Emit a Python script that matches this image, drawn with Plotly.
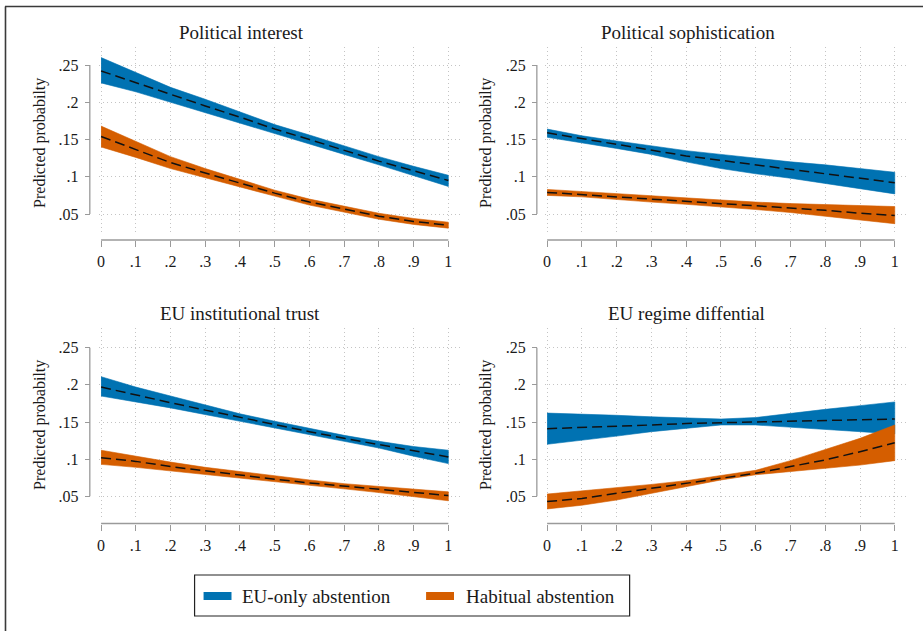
import plotly.graph_objects as go

# ---------------- data ----------------
x_values = [0, 0.1, 0.2, 0.3, 0.4, 0.5, 0.6, 0.7, 0.8, 0.9, 1.0]
x_tick_labels = ["0", ".1", ".2", ".3", ".4", ".5", ".6", ".7", ".8", ".9", "1"]
y_tick_values = [0.05, 0.10, 0.15, 0.20, 0.25]
y_tick_labels = [".05", ".1", ".15", ".2", ".25"]
panel_titles = ["Political interest", "Political sophistication",
                "EU institutional trust", "EU regime diffential"]
series_names = ["EU-only abstention", "Habitual abstention"]
y_title = "Predicted probabilty"

# Political interest
interest_eu_mean = [0.242, 0.226, 0.210, 0.195, 0.180, 0.164, 0.150, 0.135, 0.121, 0.108, 0.095]
interest_eu_lo   = [0.226, 0.214, 0.200, 0.187, 0.173, 0.158, 0.144, 0.130, 0.116, 0.102, 0.087]
interest_eu_hi   = [0.260, 0.240, 0.220, 0.204, 0.187, 0.170, 0.156, 0.141, 0.127, 0.114, 0.102]
interest_hab_mean = [0.154, 0.136, 0.119, 0.105, 0.091, 0.078, 0.066, 0.056, 0.047, 0.040, 0.035]
interest_hab_lo   = [0.140, 0.126, 0.111, 0.098, 0.086, 0.074, 0.062, 0.052, 0.043, 0.036, 0.031]
interest_hab_hi   = [0.168, 0.147, 0.127, 0.111, 0.096, 0.082, 0.070, 0.060, 0.051, 0.044, 0.039]

# Political sophistication
soph_eu_mean = [0.159, 0.151, 0.143, 0.135, 0.128, 0.122, 0.116, 0.110, 0.104, 0.098, 0.092]
soph_eu_lo   = [0.153, 0.146, 0.138, 0.130, 0.120, 0.111, 0.104, 0.098, 0.091, 0.084, 0.077]
soph_eu_hi   = [0.164, 0.155, 0.148, 0.141, 0.135, 0.130, 0.125, 0.120, 0.116, 0.111, 0.106]
soph_hab_mean = [0.079, 0.076, 0.073, 0.070, 0.067, 0.064, 0.061, 0.058, 0.055, 0.051, 0.048]
soph_hab_lo   = [0.075, 0.073, 0.070, 0.066, 0.063, 0.060, 0.056, 0.052, 0.047, 0.042, 0.037]
soph_hab_hi   = [0.083, 0.080, 0.077, 0.074, 0.071, 0.068, 0.066, 0.064, 0.063, 0.061, 0.060]

# EU institutional trust
trust_eu_mean = [0.197, 0.186, 0.176, 0.166, 0.156, 0.147, 0.137, 0.128, 0.120, 0.111, 0.103]
trust_eu_lo   = [0.185, 0.177, 0.169, 0.160, 0.151, 0.143, 0.133, 0.124, 0.115, 0.104, 0.094]
trust_eu_hi   = [0.211, 0.197, 0.185, 0.173, 0.161, 0.151, 0.141, 0.132, 0.124, 0.117, 0.112]
trust_hab_mean = [0.102, 0.097, 0.090, 0.084, 0.079, 0.073, 0.068, 0.064, 0.059, 0.055, 0.051]
trust_hab_lo   = [0.093, 0.089, 0.084, 0.079, 0.074, 0.070, 0.065, 0.060, 0.055, 0.050, 0.044]
trust_hab_hi   = [0.112, 0.104, 0.096, 0.089, 0.083, 0.077, 0.072, 0.067, 0.063, 0.059, 0.056]

# EU regime differential
regime_eu_mean = [0.141, 0.143, 0.144, 0.146, 0.148, 0.149, 0.150, 0.151, 0.152, 0.153, 0.154]
regime_eu_lo   = [0.120, 0.126, 0.131, 0.137, 0.142, 0.146, 0.146, 0.143, 0.140, 0.137, 0.134]
regime_eu_hi   = [0.162, 0.161, 0.159, 0.157, 0.155, 0.154, 0.156, 0.162, 0.167, 0.172, 0.177]
regime_hab_mean = [0.043, 0.047, 0.054, 0.061, 0.068, 0.074, 0.081, 0.090, 0.099, 0.110, 0.122]
regime_hab_lo   = [0.033, 0.038, 0.045, 0.054, 0.063, 0.072, 0.079, 0.083, 0.088, 0.092, 0.098]
regime_hab_hi   = [0.053, 0.057, 0.062, 0.066, 0.071, 0.078, 0.085, 0.098, 0.113, 0.128, 0.146]

panel_data = [
    (interest_eu_mean, interest_eu_lo, interest_eu_hi, interest_hab_mean, interest_hab_lo, interest_hab_hi),
    (soph_eu_mean, soph_eu_lo, soph_eu_hi, soph_hab_mean, soph_hab_lo, soph_hab_hi),
    (trust_eu_mean, trust_eu_lo, trust_eu_hi, trust_hab_mean, trust_hab_lo, trust_hab_hi),
    (regime_eu_mean, regime_eu_lo, regime_eu_hi, regime_hab_mean, regime_hab_lo, regime_hab_hi),
]

# ---------------- styling / geometry ----------------
W, H = 923, 631
BLUE = "#0072B2"
ORANGE = "#D55E00"
FONT = "Liberation Serif"
AXIS_GRAY = "#9a9a9a"
TEXT = "#1a1a1a"
GRID = "#c4c4c4"

# pixel geometry of each panel
geo = [
    dict(left=97, right=460, x0=99.3, x1=447.3, top=47, bottom=235, y25=65.0, y05=214.0,
         xline=240.0, yline=88.0, tx=240, ty=33, ytx=38, yty=143),
    dict(left=544, right=907, x0=546.3, x1=894.7, top=47, bottom=235, y25=65.0, y05=214.0,
         xline=240.0, yline=536.0, tx=687, ty=33, ytx=485, yty=143),
    dict(left=97, right=460, x0=99.3, x1=447.3, top=328, bottom=518, y25=347.7, y05=496.3,
         xline=523.5, yline=88.0, tx=239, ty=313, ytx=38, yty=425),
    dict(left=544, right=907, x0=546.3, x1=894.7, top=328, bottom=518, y25=347.7, y05=496.3,
         xline=523.5, yline=536.0, tx=686, ty=313, ytx=485, yty=425),
]

fig = go.Figure()
shapes = []
annotations = []
layout_axes = {}

for i, (g, data, title) in enumerate(zip(geo, panel_data, panel_titles)):
    n = "" if i == 0 else str(i + 1)
    xa, ya = "x" + n, "y" + n
    eu_m, eu_lo, eu_hi, hb_m, hb_lo, hb_hi = data

    # confidence bands
    for lo, hi, col, name in [(eu_lo, eu_hi, BLUE, series_names[0]),
                              (hb_lo, hb_hi, ORANGE, series_names[1])]:
        fig.add_trace(go.Scatter(
            x=x_values + x_values[::-1], y=hi + lo[::-1],
            fill="toself", fillcolor=col, mode="lines", name=name,
            line=dict(width=0.6, color=col), hoverinfo="skip",
            showlegend=False, xaxis=xa, yaxis=ya))
    # predicted means
    for m in (eu_m, hb_m):
        fig.add_trace(go.Scatter(
            x=x_values, y=m, mode="lines",
            line=dict(color="#111111", width=1.5, dash="10px,5px"),
            showlegend=False, xaxis=xa, yaxis=ya))

    xppu = (g["x1"] - g["x0"])
    xr = [(g["left"] - g["x0"]) / xppu, 1 + (g["right"] - g["x1"]) / xppu]
    yppu = (g["y05"] - g["y25"]) / 0.2
    yr = [0.25 - (g["bottom"] - g["y25"]) / yppu, 0.25 + (g["y25"] - g["top"]) / yppu]

    layout_axes["xaxis" + n] = dict(
        domain=[g["left"] / W, g["right"] / W], range=xr,
        anchor="free", position=1 - g["xline"] / H,
        tickvals=x_values, ticktext=x_tick_labels,
        ticks="outside", ticklen=6, tickcolor=AXIS_GRAY, tickwidth=1.2,
        showline=False, zeroline=False,
        showgrid=True, gridcolor=GRID, griddash="1px,3px", gridwidth=1,
        tickfont=dict(family=FONT, size=16, color=TEXT), ticklabelstandoff=1,
        fixedrange=True)
    layout_axes["yaxis" + n] = dict(
        domain=[1 - g["bottom"] / H, 1 - g["top"] / H], range=yr,
        anchor="free", position=g["yline"] / W,
        tickvals=y_tick_values, ticktext=y_tick_labels,
        ticks="outside", ticklen=5, tickcolor=AXIS_GRAY, tickwidth=1.2,
        showline=False, zeroline=False,
        showgrid=True, gridcolor=GRID, griddash="1px,3px", gridwidth=1,
        tickfont=dict(family=FONT, size=16, color=TEXT), ticklabelstandoff=3,
        fixedrange=True)

    # axis lines spanning the tick range (Stata style)
    shapes.append(dict(type="line", xref="paper", yref=ya,
                       x0=g["yline"] / W, x1=g["yline"] / W, y0=0.05, y1=0.25,
                       line=dict(color=AXIS_GRAY, width=1.3)))
    shapes.append(dict(type="line", xref=xa, yref="paper",
                       x0=0, x1=1, y0=1 - g["xline"] / H, y1=1 - g["xline"] / H,
                       line=dict(color=AXIS_GRAY, width=1.3)))

    annotations.append(dict(text=title, xref="paper", yref="paper",
                            x=g["tx"] / W, y=1 - g["ty"] / H, xanchor="center", yanchor="middle",
                            showarrow=False, font=dict(family=FONT, size=19, color=TEXT)))
    annotations.append(dict(text=y_title, xref="paper", yref="paper", textangle=-90,
                            x=g["ytx"] / W, y=1 - g["yty"] / H, xanchor="center", yanchor="middle",
                            showarrow=False, font=dict(family=FONT, size=16, color=TEXT)))

# legend (drawn manually to match the boxed Stata legend)
shapes.append(dict(type="rect", xref="paper", yref="paper",
                   x0=193 / W, x1=629 / W, y0=1 - 616 / H, y1=1 - 575 / H,
                   line=dict(color="#222222", width=1.2), fillcolor="white"))
legend_items = [(series_names[0], BLUE, 202, 239), (series_names[1], ORANGE, 425, 463)]
for name, col, sx, tx in legend_items:
    shapes.append(dict(type="rect", xref="paper", yref="paper",
                       x0=sx / W, x1=(sx + 28) / W, y0=1 - 600 / H, y1=1 - 592 / H,
                       line=dict(width=0), fillcolor=col))
    annotations.append(dict(text=name, xref="paper", yref="paper",
                            x=tx / W, y=1 - 596 / H, xanchor="left", yanchor="middle",
                            showarrow=False, font=dict(family=FONT, size=19, color=TEXT)))

# outer frame (top and left edges visible)
shapes.append(dict(type="line", xref="paper", yref="paper",
                   x0=3 / W, x1=1, y0=1 - 6.5 / H, y1=1 - 6.5 / H,
                   line=dict(color="#3a3a3a", width=1.6)))
shapes.append(dict(type="line", xref="paper", yref="paper",
                   x0=3.5 / W, x1=3.5 / W, y0=0, y1=1 - 6.5 / H,
                   line=dict(color="#3a3a3a", width=1.6)))

fig.update_layout(
    width=W, height=H,
    margin=dict(l=0, r=0, t=0, b=0),
    paper_bgcolor="white", plot_bgcolor="white",
    showlegend=False,
    shapes=shapes, annotations=annotations,
    **layout_axes)

fig.write_html("out.html", config={"displayModeBar": False},
               post_script="document.body.style.margin='0';")
